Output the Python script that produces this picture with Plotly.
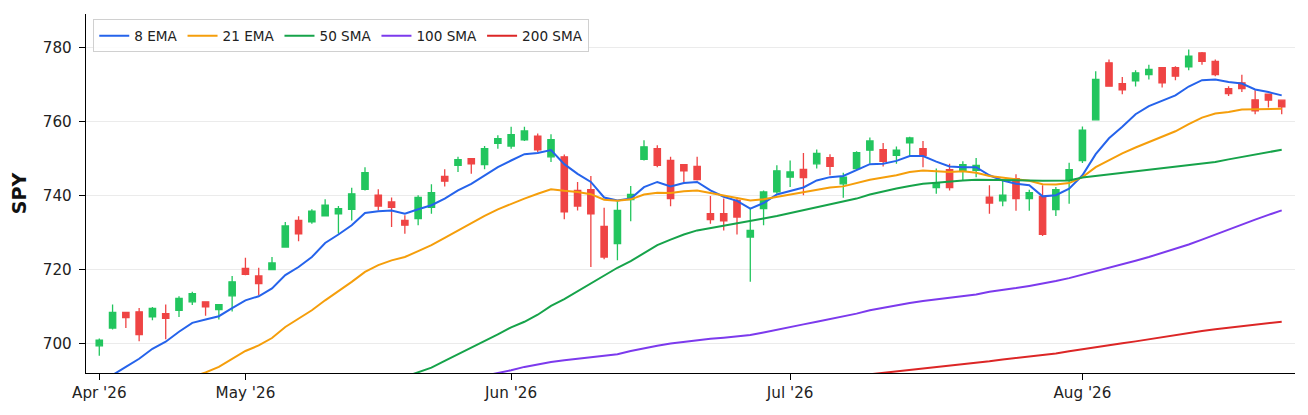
import pandas as pd
import plotly.graph_objects as go

# ---- data ----
holidays = ["2026-05-25", "2026-06-19", "2026-07-03"]
dates = [d.strftime("%Y-%m-%d") for d in pd.bdate_range("2026-04-16", "2026-08-24", freq="C", holidays=holidays)]

opens = [699.4, 704.2, 708.4, 708.6, 707.2, 708.1, 709.0, 711.3, 711.3, 709.2,
         712.9, 720.3, 718.3, 720.0, 726.1, 733.3, 732.9, 734.5, 735.1, 736.3,
         741.7, 740.1, 738.3, 733.3, 733.8, 736.8, 745.2, 748.2, 750.0, 748.4,
         754.1, 753.4, 755.1, 756.1, 750.5, 750.5, 741.4, 741.6, 731.7, 727.0,
         738.9, 749.8, 752.7, 749.5, 748.4, 747.9, 735.1, 735.1, 738.7, 728.8,
         736.5, 741.0, 745.0, 747.1, 748.6, 750.3, 743.2, 747.3, 752.3, 752.4,
         750.9, 754.3, 752.7, 742.2, 747.0, 746.6, 746.8, 739.6, 738.6, 744.6,
         739.2, 739.8, 736.2, 744.3, 749.5, 760.5, 775.9, 770.3, 771.0, 772.7,
         774.6, 774.6, 774.8, 778.6, 776.3, 768.9, 770.5, 765.9, 767.4, 765.8]
highs = [701.4, 710.6, 708.6, 709.6, 709.9, 710.6, 712.8, 714.0, 711.4, 710.6,
         718.3, 723.2, 720.5, 723.4, 732.9, 734.4, 736.3, 739.0, 737.2, 742.1,
         747.7, 741.7, 739.5, 734.7, 740.1, 743.1, 747.1, 750.5, 750.2, 753.4,
         756.3, 758.6, 758.6, 756.8, 756.6, 751.1, 743.7, 745.3, 736.7, 738.5,
         742.6, 755.0, 753.6, 750.5, 748.5, 750.5, 739.9, 739.2, 739.6, 736.5,
         741.4, 748.2, 749.5, 751.5, 752.5, 751.2, 746.2, 752.0, 755.7, 754.2,
         753.3, 755.9, 754.8, 747.3, 748.6, 749.3, 750.2, 742.8, 744.1, 745.8,
         741.6, 742.8, 742.3, 748.9, 758.7, 773.6, 776.8, 772.1, 773.9, 775.4,
         774.8, 775.0, 779.5, 778.8, 776.8, 769.6, 772.7, 768.5, 767.6, 766.0]
lows = [696.7, 703.8, 704.2, 700.6, 706.3, 701.2, 707.2, 710.4, 707.5, 706.5,
        708.7, 718.5, 713.1, 719.8, 725.9, 727.7, 732.4, 734.5, 729.7, 733.3,
        741.4, 736.0, 731.5, 729.7, 732.0, 735.1, 742.5, 746.4, 745.9, 747.1,
        752.7, 752.7, 754.8, 751.8, 749.1, 733.6, 736.0, 720.7, 722.8, 722.5,
        733.1, 749.5, 747.7, 737.1, 743.7, 744.1, 732.4, 730.6, 729.5, 716.7,
        732.0, 740.5, 742.3, 740.1, 747.3, 745.5, 739.4, 747.0, 748.6, 747.9,
        748.6, 750.7, 747.7, 740.5, 741.4, 744.0, 745.0, 735.1, 737.1, 735.9,
        735.9, 729.1, 734.5, 737.8, 748.8, 760.5, 769.5, 767.4, 769.5, 771.4,
        769.2, 771.2, 773.9, 775.4, 772.3, 766.9, 768.0, 762.0, 763.8, 762.0]
closes = [700.9, 708.4, 707.0, 702.4, 709.5, 706.8, 712.2, 713.5, 709.9, 710.5,
          716.7, 718.7, 716.2, 721.8, 731.8, 729.7, 735.8, 737.4, 736.5, 740.5,
          746.2, 737.2, 736.8, 732.0, 739.5, 740.8, 743.9, 749.7, 748.6, 752.7,
          755.4, 756.5, 757.5, 752.4, 755.1, 735.6, 737.2, 735.1, 723.4, 736.0,
          740.3, 753.2, 748.2, 739.2, 746.7, 744.3, 733.5, 733.2, 734.2, 730.6,
          741.0, 746.7, 746.4, 744.9, 751.4, 747.9, 745.0, 751.6, 754.8, 749.3,
          752.3, 755.6, 750.9, 743.4, 742.2, 748.4, 748.2, 738.0, 740.1, 739.2,
          740.8, 729.5, 741.6, 747.0, 757.7, 771.4, 769.6, 768.6, 773.2, 774.1,
          770.5, 772.3, 777.7, 776.3, 772.7, 767.6, 768.9, 762.9, 765.8, 764.0]

ema8 = [688.5, 691.5, 693.7, 695.9, 698.6, 700.5, 703.2, 705.6, 706.5, 707.4,
        709.6, 711.7, 712.8, 714.9, 718.5, 720.7, 723.4, 727.2, 729.5, 732.0,
        735.3, 735.8, 736.0, 735.1, 736.3, 737.4, 739.2, 741.4, 743.2, 745.5,
        747.7, 749.5, 751.2, 751.5, 752.3, 748.5, 745.9, 743.7, 739.5, 738.7,
        739.2, 742.3, 743.7, 742.5, 743.4, 743.7, 741.4, 739.7, 738.6, 736.5,
        738.0, 740.3, 741.3, 742.2, 744.1, 745.0, 745.3, 746.8, 748.5, 748.6,
        749.4, 750.7, 750.7, 749.2, 747.9, 747.7, 747.7, 745.5, 744.1, 743.2,
        742.8, 739.8, 740.1, 741.9, 745.5, 751.2, 755.5, 758.6, 762.0, 764.2,
        765.6, 767.1, 769.5, 771.2, 771.4, 770.7, 770.3, 768.7, 768.0, 767.1]
ema21 = [None, None, None, None, None, None, None, 691.0, 692.2, 693.7,
         695.9, 698.0, 699.5, 701.5, 704.5, 706.8, 709.0, 711.7, 714.1, 716.7,
         719.4, 721.2, 722.5, 723.4, 725.0, 726.6, 728.6, 730.6, 732.4, 734.5,
         736.3, 737.8, 739.2, 740.5, 741.7, 741.3, 741.0, 740.4, 738.9, 738.6,
         739.0, 740.3, 740.8, 740.7, 741.2, 741.4, 740.7, 740.1, 739.5, 738.7,
         739.0, 739.6, 740.3, 740.8, 741.6, 742.2, 742.5, 743.4, 744.3, 744.9,
         745.5, 746.4, 746.8, 746.6, 746.4, 746.6, 746.2, 745.3, 744.8, 744.3,
         744.0, 743.1, 743.0, 743.4, 745.0, 747.7, 749.6, 751.4, 753.0, 754.5,
         755.9, 757.4, 759.3, 761.1, 762.2, 762.6, 763.3, 763.3, 763.5, 763.5]
sma50 = [None] * 23 + [
         691.0, 692.2, 693.5, 695.3, 697.1, 698.8, 700.5,
         702.5, 704.4, 705.9, 707.8, 710.2, 712.0, 714.1, 716.4, 718.5, 720.5,
         722.3, 724.5, 726.6, 728.1, 729.5, 730.6, 731.2, 731.8, 732.4, 733.0,
         733.8, 734.5, 735.3, 736.0, 736.8, 737.6, 738.3, 739.2, 740.3, 741.2,
         741.9, 742.6, 743.2, 743.5, 743.9, 744.1, 744.3, 744.3, 744.3, 744.3,
         744.1, 744.0, 744.0, 744.1, 744.9, 745.3, 745.8, 746.2, 746.6, 747.0,
         747.3, 747.7, 748.2, 748.6, 749.1, 749.8, 750.5, 751.2, 751.8, 752.4]
sma100 = [None] * 29 + [
          691.3,
          692.0, 692.8, 693.7, 694.4, 695.0, 695.5, 695.9, 696.4, 696.7, 697.1,
          698.0, 698.8, 699.4, 700.0, 700.5, 700.9, 701.3, 701.6, 701.9, 702.3,
          703.0, 703.8, 704.5, 705.2, 705.9, 706.6, 707.2, 708.1, 709.0, 709.7,
          710.4, 711.0, 711.5, 711.9, 712.3, 712.8, 713.3, 714.0, 714.4, 715.0,
          715.6, 716.2, 716.9, 717.7, 718.6, 719.6, 720.5, 721.4, 722.4, 723.4,
          724.5, 725.6, 726.8, 728.1, 729.5, 730.8, 732.2, 733.5, 734.8, 736.0]
sma200 = [None] * 58 + [
          691.7, 692.1,
          692.5, 692.9, 693.2, 693.5, 693.9, 694.3, 694.8, 695.2, 695.7, 696.1,
          696.4, 696.8, 697.3, 697.9, 698.5, 699.1, 699.6, 700.1, 700.6, 701.2,
          701.8, 702.4, 703.0, 703.4, 703.9, 704.3, 704.8, 705.2, 705.6, 705.9]

ma_names = ["8 EMA", "21 EMA", "50 SMA", "100 SMA", "200 SMA"]
ma_series = [ema8, ema21, sma50, sma100, sma200]
ma_colors = ["#2563eb", "#f59e0b", "#16a34a", "#7c3aed", "#dc2626"]

tick_dates = ["2026-04-16", "2026-05-01", "2026-06-01", "2026-07-01", "2026-08-03"]
tick_labels = ["Apr '26", "May '26", "Jun '26", "Jul '26", "Aug '26"]
y_ticks = [700, 720, 740, 760, 780]

# ---- figure ----
fig = go.Figure()
fig.add_trace(go.Candlestick(
    x=dates, open=opens, high=highs, low=lows, close=closes,
    increasing=dict(line=dict(color="#22c55e", width=1.3), fillcolor="#22c55e"),
    decreasing=dict(line=dict(color="#ef4444", width=1.3), fillcolor="#ef4444"),
    whiskerwidth=0, showlegend=False, hoverinfo="skip",
))
for name, vals, col in zip(ma_names, ma_series, ma_colors):
    fig.add_trace(go.Scatter(x=dates, y=vals, mode="lines", name=name,
                             line=dict(color=col, width=2), connectgaps=False,
                             hoverinfo="skip"))

font = "DejaVu Sans"
fig.update_layout(
    width=1308, height=415,
    margin=dict(l=78, r=21, t=6, b=50),
    paper_bgcolor="white", plot_bgcolor="white",
    font=dict(family=font, size=15, color="#222222"),
    boxgap=0.32,
    showlegend=True,
    legend=dict(orientation="h", x=0.006, y=0.985, xanchor="left", yanchor="top",
                bgcolor="rgba(255,255,255,0.85)", bordercolor="#d0d0d0", borderwidth=1,
                font=dict(family=font, size=13.6, color="#222222"),
                itemwidth=30, tracegroupgap=0),
    xaxis=dict(type="category", range=[-1, 90],
               tickmode="array", tickvals=tick_dates, ticktext=tick_labels,
               showgrid=False, showline=True, linecolor="black", linewidth=1.3,
               ticks="outside", ticklen=6, tickwidth=1.3, tickcolor="black",
               rangeslider=dict(visible=False), zeroline=False,
               tickfont=dict(family=font, size=15.2, color="#222222")),
    yaxis=dict(range=[692.05, 789.1], tickmode="array", tickvals=y_ticks,
               showgrid=True, gridcolor="#ebebeb", gridwidth=0.8,
               showline=True, linecolor="black", linewidth=1.3,
               ticks="outside", ticklen=6, tickwidth=1.3, tickcolor="black",
               zeroline=False, ticklabelstandoff=4,
               tickfont=dict(family=font, size=15.2, color="#222222"),
               title=dict(text="<b>SPY</b>", standoff=12,
                          font=dict(family=font, size=19, color="#111111"))),
)
fig.write_html("out.html")
